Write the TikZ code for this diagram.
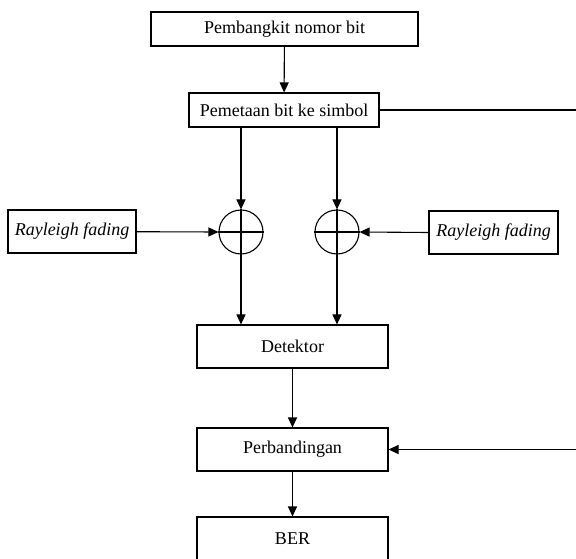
\documentclass[tikz,border=0pt]{standalone}
\usepackage{fontspec}
\setmainfont{Liberation Serif}
\usetikzlibrary{arrows.meta}
\begin{document}
\begin{tikzpicture}[x=1pt,y=-1pt,
  blk/.style={draw, line width=1.1pt, inner sep=0pt, font=\fontsize{18}{22}\selectfont},
  sumc/.style={draw, circle, line width=1.1pt, minimum size=44pt, inner sep=0pt},
  conn/.style={line width=1.1pt, -{Triangle[length=10pt,width=9pt]}},
  plain/.style={line width=1.1pt}]
\useasboundingbox (0,0) rectangle (576,559);
\node[blk, minimum width=267pt, minimum height=34pt] (gen) at (284.5,29) {Pembangkit nomor bit};
\node[blk, minimum width=190pt, minimum height=34pt] (map) at (284,110) {Pemetaan bit ke simbol};
\node[sumc] (s1) at (241,232) {};
\node[sumc] (s2) at (337,232) {};
\draw[line width=1.1pt] (s1.north) -- (s1.south) (s1.west) -- (s1.east);
\draw[line width=1.1pt] (s2.north) -- (s2.south) (s2.west) -- (s2.east);
\node[blk, minimum width=128pt, minimum height=43pt, font=\fontsize{18}{22}\selectfont\itshape] (rl) at (72,231.5) {Rayleigh fading};
\node[blk, minimum width=129pt, minimum height=43pt, font=\fontsize{18}{22}\selectfont\itshape] (rr) at (493.5,232.5) {Rayleigh fading};
\node[blk, minimum width=191pt, minimum height=43pt] (det) at (292.5,346.5) {Detektor};
\node[blk, minimum width=191pt, minimum height=43pt] (cmp) at (292.5,449.5) {Perbandingan};
\node[blk, minimum width=191pt, minimum height=43pt] (ber) at (292.5,538.5) {BER};
\coordinate (r1) at (576,110);
\coordinate (r2) at (576,449.5);
\draw[conn] (gen) -- (map);
\draw[conn] (map.south -| s1) -- (s1.north);
\draw[conn] (map.south -| s2) -- (s2.north);
\draw[conn] (rl) -- (s1.west);
\draw[conn] (rr.west) -- (s2.east);
\draw[conn] (s1.south) -- (det.north -| s1);
\draw[conn] (s2.south) -- (det.north -| s2);
\draw[conn] (det) -- (cmp);
\draw[conn] (cmp) -- (ber);
\draw[plain] (map.east) -- (r1);
\draw[conn] (r2) -- (cmp.east);
\end{tikzpicture}
\end{document}
